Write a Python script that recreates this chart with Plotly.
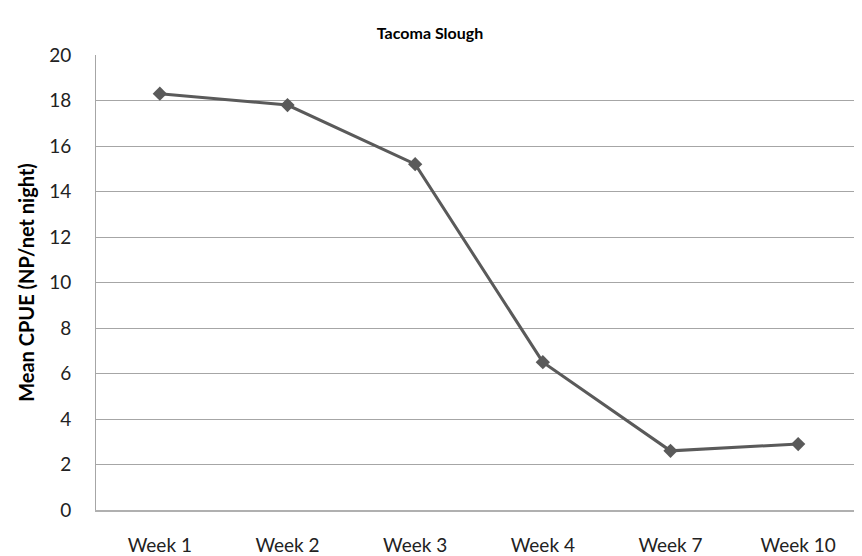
import plotly.graph_objects as go

weeks = ["Week 1", "Week 2", "Week 3", "Week 4", "Week 7", "Week 10"]
cpue = [18.3, 17.8, 15.2, 6.5, 2.6, 2.9]
y_ticks = [0, 2, 4, 6, 8, 10, 12, 14, 16, 18, 20]

fig = go.Figure()
fig.add_trace(go.Scatter(
    x=weeks, y=cpue, mode="lines+markers",
    line=dict(color="#5a5a5a", width=3),
    marker=dict(symbol="diamond", size=11, color="#5a5a5a"),
    showlegend=False,
))

# The page body has an 8px margin, so the figure is offset by 8px.
W, H = 854, 548
font = "Lato, 'Open Sans', sans-serif"
fig.update_layout(
    width=W, height=H,
    margin=dict(l=88, r=0, t=47, b=46),
    paper_bgcolor="white", plot_bgcolor="white",
    font=dict(family=font, color="#222222", size=19),
    title=dict(text="<b>Tacoma Slough</b>", x=422/W, xanchor="center",
               y=1 - 25/H, yanchor="middle", font=dict(size=16, family=font, color="#000000")),
)
fig.update_xaxes(
    type="category", range=[-0.5, 5.5], automargin=False,
    showgrid=False, showline=True, linecolor="#b0b0b0", linewidth=2,
    ticks="outside", ticklen=17, tickcolor="rgba(0,0,0,0)",
    tickfont=dict(size=19),
)
fig.update_yaxes(
    range=[0, 20], tickvals=y_ticks, automargin=False,
    showgrid=True, gridcolor="#a6a6a6", gridwidth=1,
    showline=True, linecolor="#a6a6a6", linewidth=1,
    ticks="outside", ticklen=20, tickcolor="rgba(0,0,0,0)",
    tickfont=dict(size=19), zeroline=False,
    title=dict(text="<b>Mean CPUE (NP/net night)</b>", font=dict(size=20, color="#000000"), standoff=9),
)
fig.write_html("out.html")
